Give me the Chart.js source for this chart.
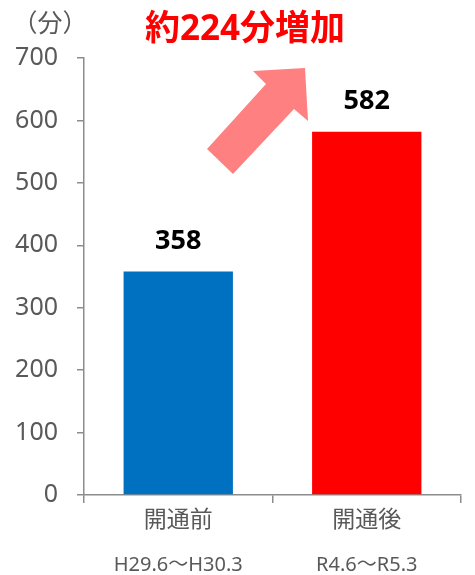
<!DOCTYPE html>
<html lang="ja">
<head>
<meta charset="UTF-8">
<script src="https://cdn.jsdelivr.net/npm/chart.js@4/dist/chart.umd.min.js"></script>
<style>
    html, body { margin: 0; padding: 0; background: #fff; }
    #wrap { width: 475px; height: 575px; }
</style>
</head>
<body>
<div id="wrap"><canvas id="chart" width="475" height="575"></canvas></div>
<script>
// 所要時間（分）
const categories = ['開通前', '開通後'];
const periods = ['H29.6～H30.3', 'R4.6～R5.3'];
const minutes = [358, 582];
const barColors = ['#0070C0', '#FF0000'];
const yTicks = [0, 100, 200, 300, 400, 500, 600, 700];

const FONT = '"Noto Sans", "Noto Sans CJK JP", sans-serif';
const CJK = '"Noto Sans CJK JP", sans-serif';
const GRAY = '#595959';
const AXIS = '#8c8c8c';

// bar labels, the increase arrow, headline and unit
const annotate = {
    id: 'annotate',
    afterDatasetsDraw(chart) {
        const ctx = chart.ctx;
        const meta = chart.getDatasetMeta(0);
        ctx.save();
        ctx.textAlign = 'center';
        ctx.textBaseline = 'middle';

        ctx.fillStyle = '#000';
        ctx.font = 'bold 27px ' + FONT;
        meta.data.forEach((bar, i) => {
            ctx.fillText(minutes[i], bar.x, bar.y - 30);
        });

        // block arrow
        ctx.fillStyle = '#FF8080';
        ctx.beginPath();
        [[207, 149], [233, 174], [294, 109], [308, 121], [305, 68], [253, 71], [266, 84]]
            .forEach(([x, y], i) => i ? ctx.lineTo(x, y) : ctx.moveTo(x, y));
        ctx.closePath();
        ctx.fill();

        ctx.fillStyle = '#FF0000';
        ctx.font = 'bold 35px ' + FONT;
        ctx.fillText('約' + (minutes[1] - minutes[0]) + '分増加', 245, 30);

        ctx.fillStyle = GRAY;
        ctx.font = '25px ' + CJK;
        ctx.fillText('（分）', 50, 22);
        ctx.restore();
    }
};

new Chart(document.getElementById('chart'), {
    type: 'bar',
    data: {
        labels: categories,
        datasets: [{
            data: minutes,
            backgroundColor: barColors,
            categoryPercentage: 1,
            barPercentage: 0.58
        }]
    },
    options: {
        responsive: false,
        animation: false,
        layout: { padding: { top: 58, right: 14, bottom: 0, left: 0 } },
        plugins: {
            legend: { display: false },
            tooltip: { enabled: false }
        },
        scales: {
            y: {
                min: 0,
                max: 700,
                afterBuildTicks: s => { s.ticks = yTicks.map(v => ({ value: v })); },
                afterFit: s => { s.width = 84; },
                border: { display: true, color: AXIS, width: 1.5 },
                grid: { drawOnChartArea: false, drawTicks: true, tickLength: 7, color: AXIS, lineWidth: 1.5 },
                ticks: { color: GRAY, padding: 19, font: { family: FONT, size: 25 } }
            },
            x: {
                afterFit: s => { s.height = 46; },
                border: { display: true, color: AXIS, width: 1.5 },
                grid: { offset: true, drawOnChartArea: false, drawTicks: true, tickLength: 8, color: AXIS, lineWidth: 1.5 },
                ticks: { color: GRAY, padding: 4, font: { family: FONT, size: 23 } }
            },
            x2: {
                type: 'category',
                labels: periods,
                position: 'bottom',
                afterFit: s => { s.height = 34; },
                border: { display: false },
                grid: { display: false, drawTicks: false },
                ticks: { color: GRAY, padding: 12, font: { family: FONT, size: 20 } }
            }
        }
    },
    plugins: [annotate]
});
</script>
</body>
</html>
